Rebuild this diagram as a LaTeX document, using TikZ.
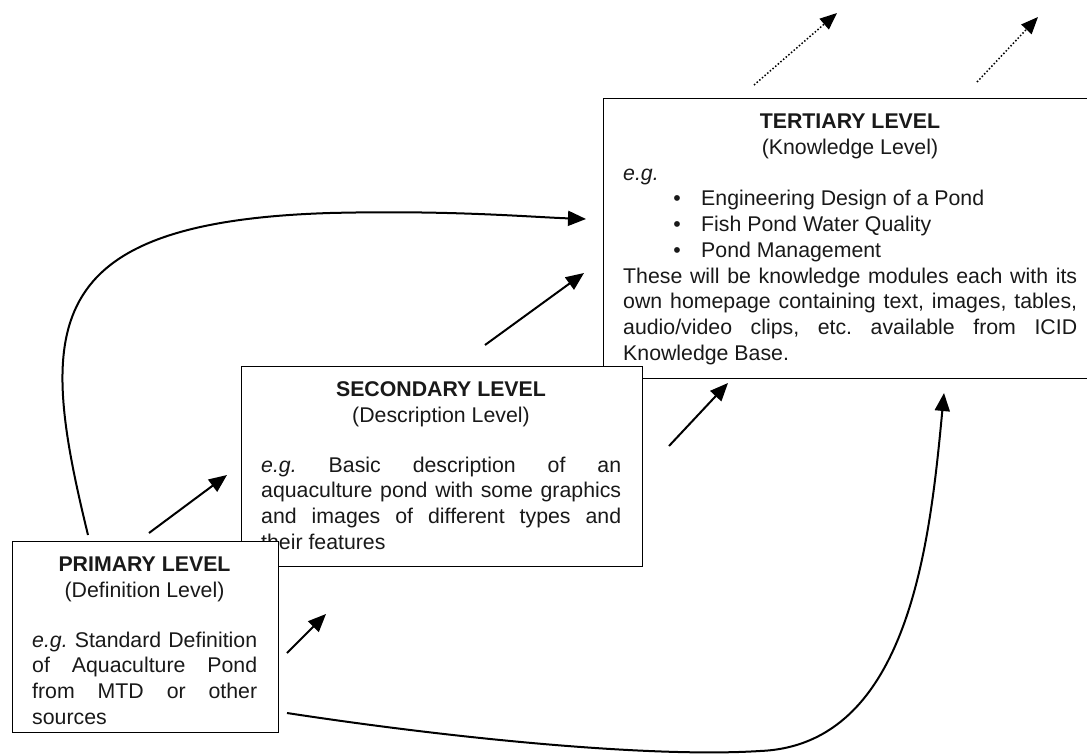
\documentclass[tikz,border=0pt]{standalone}
\usepackage{fontspec}
\setmainfont{Liberation Sans}
\usetikzlibrary{arrows.meta}
\frenchspacing
\tikzset{
  box/.style={draw, line width=1.4pt, fill=white, inner sep=0pt, anchor=north west},
  txt/.style={font=\fontsize{21.3}{25.7}\selectfont, inner sep=0pt, anchor=base west, text=black!90},
  para/.style={txt, anchor=north west, align=justify},
  arr/.style={-{Triangle[length=18pt,width=15pt]}, line width=2pt},
  dotarr/.style={-{Triangle[length=17pt,width=14pt]}, line width=1.5pt, dotted},
}
\begin{document}
\begin{tikzpicture}[x=1pt,y=-1pt]
\useasboundingbox (0,0) rectangle (1087,753);
\clip (0,0) rectangle (1087,753);
% tertiary
\node[box, minimum width=495pt, minimum height=280pt] (ter) at (603,98) {};
\node[txt, anchor=base] (terT) at (850,128) {\textbf{TERTIARY LEVEL}};
\node[txt, anchor=base] (terS) at (850,154) {(Knowledge Level)};
\node[txt] (terEg) at (623,180) {\textit{e.g.}};
\node[txt, anchor=base] (b1) at (677,205) {\textbullet};
\node[txt] (l1) at (701,205) {Engineering Design of a Pond};
\node[txt, anchor=base] (b2) at (677,231) {\textbullet};
\node[txt] (l2) at (701,231) {Fish Pond Water Quality};
\node[txt, anchor=base] (b3) at (677,257) {\textbullet};
\node[txt] (l3) at (701,257) {Pond Management};
\node[para, text width=454pt] (terP) at (623,265) {\noindent\strut These will be knowledge modules each with its\linebreak own homepage containing text, images, tables,\linebreak audio/video clips, etc. available from ICID\linebreak Knowledge Base.};
% secondary
\node[box, minimum width=401pt, minimum height=200pt] (sec) at (241,366) {};
\node[txt, anchor=base] (secT) at (441,396.5) {\textbf{SECONDARY LEVEL}};
\node[txt, anchor=base] (secS) at (441,422) {(Description Level)};
\node[para, text width=360pt] (secP) at (261,454) {\noindent\strut\textit{e.g.} Basic description of an\linebreak aquaculture pond with some graphics\linebreak and images of different types and\linebreak their features};
% primary
\node[box, minimum width=266pt, minimum height=191pt] (pri) at (12,541) {};
\node[txt, anchor=base] (priT) at (144.5,571) {\textbf{PRIMARY LEVEL}};
\node[txt, anchor=base] (priS) at (144.5,597) {(Definition Level)};
\node[para, text width=225pt] (priP) at (32,629) {\noindent\strut\textit{e.g.} Standard Definition\linebreak of Aquaculture Pond\linebreak from MTD or other\linebreak sources};
% connector ends
\coordinate (c1s) at (88,535);
\coordinate (c1e) at (586,219);
\coordinate (a2s) at (149,533);
\coordinate (a2e) at (227,475);
\coordinate (a3s) at (485,345);
\coordinate (a3e) at (584,273);
\coordinate (a4s) at (287,653);
\coordinate (a4e) at (326,614);
\coordinate (a5s) at (669,446);
\coordinate (a5e) at (728,383);
\coordinate (c2s) at (287,713);
\coordinate (c2m) at (760,751);
\coordinate (c2e) at (944,393);
\coordinate (d1s) at (754,85);
\coordinate (d1e) at (837,13);
\coordinate (d2s) at (977,82);
\coordinate (d2e) at (1038,17);
% connectors
\draw[arr] (c1s) .. controls (38,330) and (35,222) .. (330,213) .. controls (450,210) and (530,217) .. (c1e);
\draw[arr] (a2s) -- (a2e);
\draw[arr] (a3s) -- (a3e);
\draw[arr] (a4s) -- (a4e);
\draw[arr] (a5s) -- (a5e);
\draw[arr] (c2s) .. controls (450,738) and (650,758) .. (c2m) .. controls (910,745) and (930,540) .. (c2e);
\draw[dotarr] (d1s) -- (d1e);
\draw[dotarr] (d2s) -- (d2e);
\end{tikzpicture}
\end{document}
